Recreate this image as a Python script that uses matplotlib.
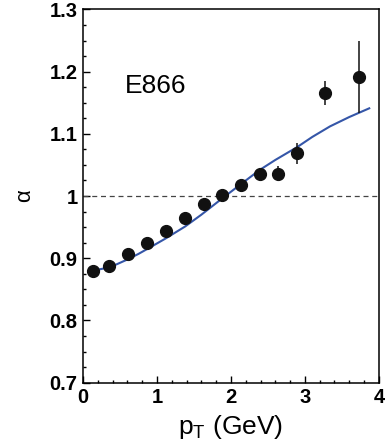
import numpy as np
import matplotlib
matplotlib.use("Agg")
from matplotlib import pyplot as plt
from matplotlib.ticker import MultipleLocator, FuncFormatter

plt.rcParams['font.family'] = ['Liberation Sans', 'DejaVu Sans']
plt.rcParams['mathtext.fontset'] = 'custom'
plt.rcParams['mathtext.rm'] = 'Liberation Sans'
plt.rcParams['mathtext.it'] = 'Liberation Sans'

# E866 data points
pt = [0.13, 0.35, 0.61, 0.86, 1.12, 1.38, 1.63, 1.88, 2.14, 2.39, 2.64, 2.90, 3.27, 3.73]
alpha = [0.880, 0.888, 0.907, 0.924, 0.944, 0.964, 0.987, 1.002, 1.018, 1.035, 1.036, 1.069, 1.166, 1.192]
err = [0.0, 0.0, 0.0, 0.0, 0.0, 0.0, 0.0, 0.0, 0.0, 0.0, 0.012, 0.017, 0.019, 0.058]

# model curve
curve_pt = [0.13, 0.3, 0.45, 0.6, 0.75, 0.9, 1.12, 1.38, 1.6, 1.88, 2.1, 2.39, 2.6, 2.9, 3.1, 3.34, 3.6, 3.87]
curve_alpha = [0.880, 0.884, 0.890, 0.898, 0.907, 0.917, 0.932, 0.951, 0.970, 0.996, 1.016, 1.042, 1.058, 1.079, 1.095, 1.112, 1.127, 1.141]

fig = plt.figure(figsize=(3.85, 4.48), dpi=100)
ax = fig.add_axes([0.2156, 0.1458, 0.984 - 0.2156, 0.979 - 0.1458])

ax.axhline(1.0, color='#444444', linestyle=(0, (4, 3)), linewidth=0.9)
ax.plot(curve_pt, curve_alpha, color='#3556a8', linewidth=1.5)
ax.errorbar(pt, alpha, yerr=err, fmt='o', color='#111111', markersize=8.5,
            elinewidth=1.1, capsize=0)

ax.set_xlim(0, 4)
ax.set_ylim(0.7, 1.3)
ax.xaxis.set_major_locator(MultipleLocator(1))
ax.xaxis.set_minor_locator(MultipleLocator(0.2))
ax.yaxis.set_major_locator(MultipleLocator(0.1))
ax.yaxis.set_minor_locator(MultipleLocator(0.025))
ax.yaxis.set_major_formatter(FuncFormatter(lambda v, p: '%g' % round(v, 2)))

ax.tick_params(which='both', direction='in', top=False, right=False, width=1.0)
ax.tick_params(which='major', length=5, labelsize=14.5, pad=4)
ax.tick_params(which='minor', length=2.5)
for lab in ax.get_xticklabels() + ax.get_yticklabels():
    lab.set_fontweight('bold')
for s in ax.spines.values():
    s.set_linewidth(1.1)

ax.text(0.57, 1.165, 'E866', fontsize=19, va='baseline')
ax.set_xlabel('p$_\\mathrm{T}$ (GeV)', fontsize=19, labelpad=4)
ax.set_ylabel('\u03b1', fontsize=16, labelpad=10)

fig.savefig('out.png', dpi=100)
